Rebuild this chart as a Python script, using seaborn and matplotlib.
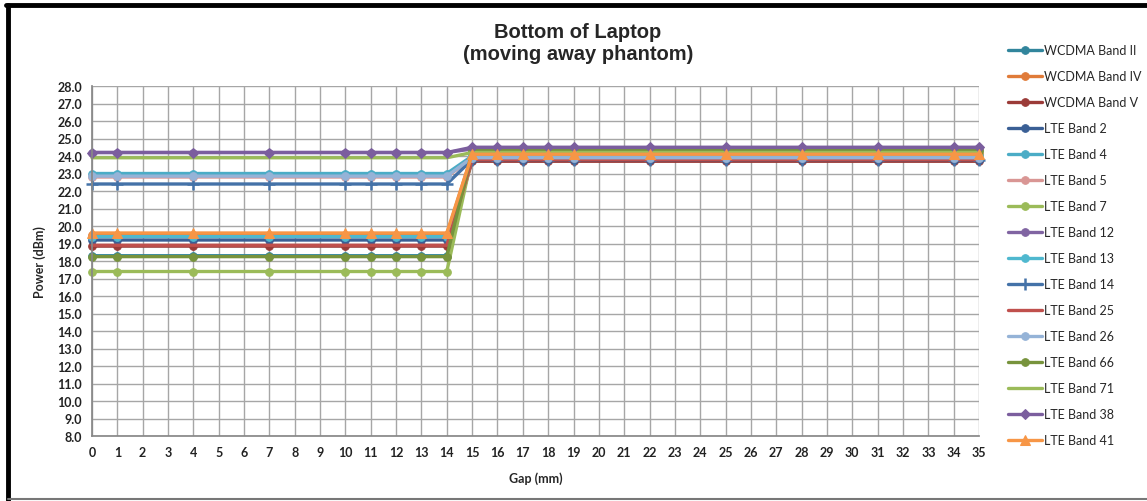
import matplotlib.pyplot as plt
import matplotlib.lines as mlines
import seaborn as sns
import pandas as pd

# measured gap positions (mm)
gaps = [0, 1, 4, 7, 10, 11, 12, 13, 14, 15, 16, 17, 18, 19, 22, 25, 28, 31, 34, 35]

bands = ['WCDMA Band II', 'WCDMA Band IV', 'WCDMA Band V', 'LTE Band 2', 'LTE Band 4',
         'LTE Band 5', 'LTE Band 7', 'LTE Band 12', 'LTE Band 13', 'LTE Band 14',
         'LTE Band 25', 'LTE Band 26', 'LTE Band 66', 'LTE Band 71', 'LTE Band 38',
         'LTE Band 41']

# power at gap 0..14 (reduced) and at gap 15..35 (full)
near_power = [18.3, 19.5, 18.85, 19.2, 23.0, 22.8, 17.4, 24.2, 19.4, 22.4,
              18.9, 22.85, 18.25, 23.9, 24.2, 19.6]
far_power = [23.9, 24.1, 23.7, 23.8, 24.0, 23.9, 24.0, 24.4, 24.0, 23.8,
             23.8, 23.9, 24.3, 24.2, 24.5, 24.1]

colors = ['#31859C', '#E07B39', '#9B3B38', '#3A5F95', '#4BACC6', '#D99694',
          '#9BBB59', '#8064A2', '#4FB8CF', '#4472A8', '#C0504D', '#95B3D7',
          '#77933C', '#9BBB59', '#7B5E9E', '#F79646']
markers = ['o', 'o', 'o', 'o', 'o', 'o', 'o', 'o', 'o', '+', '', 'o', 'o', '', 'D', '^']

rows = []
for b, lo, hi in zip(bands, near_power, far_power):
    for g in gaps:
        rows.append({'Gap': g, 'Power': lo if g <= 14 else hi, 'Band': b})
df = pd.DataFrame(rows)

sns.set_theme(style="white")
plt.rcParams['font.family'] = ['Lato', 'DejaVu Sans']

fig = plt.figure(figsize=(11.47, 5.02), dpi=100)
ax = fig.add_axes([92 / 1147, 1 - 437 / 502, (979 - 92) / 1147, (437 - 87) / 502])

for b, c, m in zip(bands, colors, markers):
    sub = df[df['Band'] == b]
    kw = dict(marker=m, markersize=5.5) if m else dict(marker=None)
    if m == '+':
        kw = dict(marker='+', markersize=8, markeredgewidth=1.8)
    if m == 'D':
        kw = dict(marker='D', markersize=5)
    if m == '^':
        kw = dict(marker='^', markersize=7)
    sns.lineplot(data=sub, x='Gap', y='Power', ax=ax, color=c, linewidth=2.4,
                 markeredgecolor=c, label=b, legend=False, clip_on=False, **kw)

ax.set_xlim(0, 35)
ax.set_ylim(8, 28)
ax.set_xticks(range(0, 36))
ax.set_yticks(range(8, 29))
ax.set_yticklabels([f"{v:.1f}" for v in range(8, 29)])
ax.grid(True, color='#A6A6A6', linewidth=1.0)
for s in ['top', 'right']:
    ax.spines[s].set_visible(False)
for s in ['left', 'bottom']:
    ax.spines[s].set_color('#888888')
ax.tick_params(axis='both', which='both', direction='inout', length=6, color='#888888',
               labelsize=9, labelcolor='#222222', pad=4)
for lab in ax.get_xticklabels() + ax.get_yticklabels():
    lab.set_fontweight('bold')
ax.set_xlabel('Gap (mm)', fontsize=9, fontweight='bold', labelpad=10)
ax.set_ylabel('Power (dBm)', fontsize=9, fontweight='bold', labelpad=8)

fig.text(578 / 1147, 1 - 43 / 502, 'Bottom of Laptop\n(moving away phantom)',
         ha='center', va='center', fontsize=14.5, fontweight='bold',
         family=['Liberation Sans', 'DejaVu Sans'], linespacing=1.2)

handles, labels = ax.get_legend_handles_labels()
fig.legend(handles, labels, loc='upper left', bbox_to_anchor=(1003 / 1147, 1 - 40 / 502),
           frameon=False, fontsize=9, labelspacing=1.12, handlelength=2.7,
           handletextpad=0.15, borderaxespad=0)

# chart-area border
fig.add_artist(mlines.Line2D([6 / 1147, 1], [1 - 6 / 502, 1 - 6 / 502], color='black', linewidth=3.5))
fig.add_artist(mlines.Line2D([8 / 1147, 8 / 1147], [0, 1 - 6 / 502], color='black', linewidth=3.5))
fig.add_artist(mlines.Line2D([8 / 1147, 1], [2 / 502, 2 / 502], color='#777777', linewidth=1.5))

fig.savefig('out.png', dpi=100)
